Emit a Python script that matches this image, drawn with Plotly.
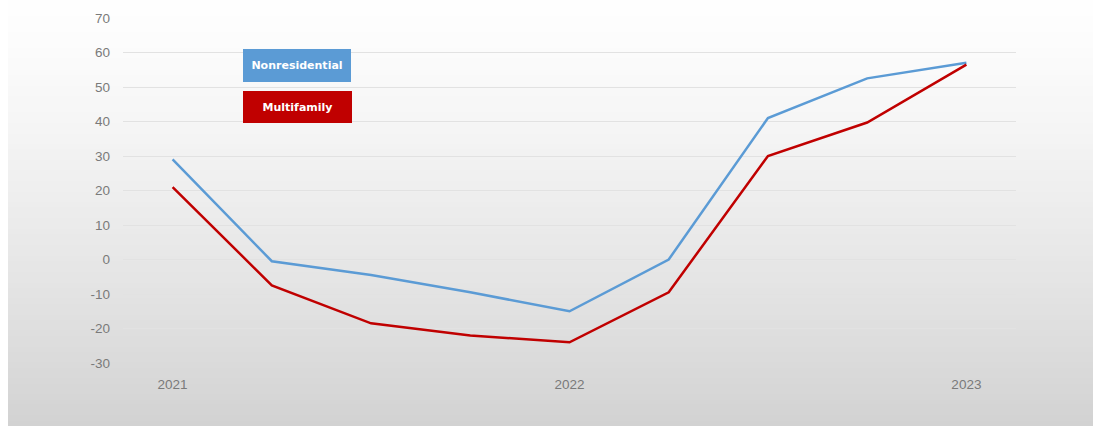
import plotly.graph_objects as go

# Quarterly series, Q1 2021 through Q1 2023
quarters = ["2021 Q1", "2021 Q2", "2021 Q3", "2021 Q4", "2022 Q1",
            "2022 Q2", "2022 Q3", "2022 Q4", "2023 Q1"]
nonresidential = [29, -0.5, -4.5, -9.5, -15, 0, 41, 52.5, 57]
multifamily = [21, -7.5, -18.5, -22, -24, -9.5, 30, 39.7, 56.5]

year_tick_positions = [0, 4, 8]
year_tick_labels = ["2021", "2022", "2023"]
y_ticks = list(range(-30, 71, 10))
y_tick_labels = [str(v) for v in y_ticks]  # plain hyphen for negatives

BLUE = "#5b9bd5"
RED = "#c00000"
TICK_FONT = dict(size=13.5, color="#7a7a7a", family="Liberation Sans, Arial")

x_idx = list(range(len(quarters)))

fig = go.Figure()
fig.add_trace(go.Scatter(x=x_idx, y=nonresidential, mode="lines", name="Nonresidential",
                         line=dict(color=BLUE, width=2.5), hoverinfo="text",
                         text=[f"{q}: {v}" for q, v in zip(quarters, nonresidential)]))
fig.add_trace(go.Scatter(x=x_idx, y=multifamily, mode="lines", name="Multifamily",
                         line=dict(color=RED, width=2.5), hoverinfo="text",
                         text=[f"{q}: {v}" for q, v in zip(quarters, multifamily)]))

# Vertical background gradient (white at top to light grey at bottom)
W, H = 1093, 426
ml, mr, mt, mb = 123, 77, 18, 63
pw, ph = W - ml - mr, H - mt - mb
steps = 80
shapes = []
for i in range(steps):
    t0 = i / steps
    t1 = (i + 1) / steps
    tm = (t0 + t1) / 2
    c = int(round(254 - (254 - 210) * tm ** 1.3))
    py0 = H * t0
    py1 = H * t1 + 1
    shapes.append(dict(
        type="rect", xref="paper", yref="paper", layer="below",
        x0=(8 - ml) / pw, x1=(W - ml) / pw,
        y0=(H - mb - py1) / ph, y1=(H - mb - py0) / ph,
        fillcolor=f"rgb({c},{c},{c})", line=dict(width=0)))

LEGEND_FONT = dict(color="white", size=11, family="DejaVu Sans")
annotations = [
    dict(x=1.25, y=56.2, xref="x", yref="y", text="<b>Nonresidential</b>",
         showarrow=False, bgcolor=BLUE, width=104, height=29,
         font=LEGEND_FONT, bordercolor=BLUE, borderwidth=1),
    dict(x=1.255, y=44.2, xref="x", yref="y", text="<b>Multifamily</b>",
         showarrow=False, bgcolor=RED, width=105, height=28,
         font=LEGEND_FONT, bordercolor=RED, borderwidth=1),
]

fig.update_layout(
    width=W, height=H,
    margin=dict(l=ml, r=mr, t=mt, b=mb),
    paper_bgcolor="white",
    plot_bgcolor="rgba(0,0,0,0)",
    showlegend=False,
    shapes=shapes,
    annotations=annotations,
    font=dict(family="Liberation Sans, Arial", size=12, color="#7a7a7a"),
    xaxis=dict(range=[-0.5, 8.5], tickmode="array", tickvals=year_tick_positions,
               ticktext=year_tick_labels, showgrid=False, zeroline=False,
               showline=False, ticks="", ticklabelstandoff=11,
               tickfont=TICK_FONT, fixedrange=True),
    yaxis=dict(range=[-30, 70], tickmode="array", tickvals=y_ticks,
               ticktext=y_tick_labels,
               showgrid=True, gridcolor="#e2e2e2", gridwidth=1.3,
               zeroline=False, showline=False, ticks="", ticklabelstandoff=12,
               tickfont=TICK_FONT, fixedrange=True),
)

fig.write_html("out.html")
